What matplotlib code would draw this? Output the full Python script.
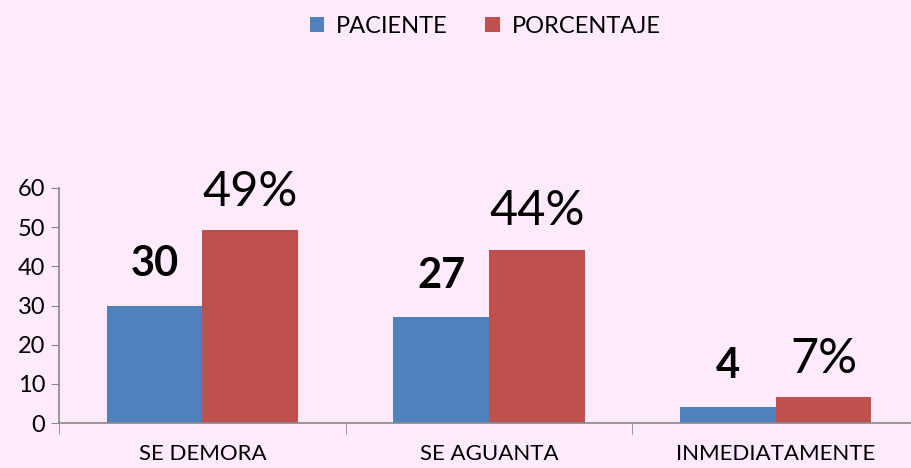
import numpy as np
import matplotlib
matplotlib.use("Agg")
import matplotlib.pyplot as plt

plt.rcParams['font.family'] = ['Lato', 'DejaVu Sans']

categorias = ['SE DEMORA', 'SE AGUANTA', 'INMEDIATAMENTE']
paciente = [30, 27, 4]
porcentaje = [49.18, 44.26, 6.56]
etiq_pac = ['30', '27', '4']
etiq_por = ['49%', '44%', '7%']

bg = '#FDEAFB'
azul = '#4F81BD'
rojo = '#C0504D'

fig = plt.figure(figsize=(9.12, 4.68), dpi=100, facecolor=bg)
ax = fig.add_axes([59/912, 1-423/468, 860/912, 235/468], facecolor=bg)

x = np.arange(len(categorias))
w = 0.334
b1 = ax.bar(x - w/2, paciente, w, color=azul, label='PACIENTE')
b2 = ax.bar(x + w/2, porcentaje, w, color=rojo, label='PORCENTAJE')

for r, t in zip(b1, etiq_pac):
    ax.annotate(t, (r.get_x() + r.get_width()/2, r.get_height()), xytext=(0, 16),
                textcoords='offset points', ha='center', va='bottom',
                fontsize=30, fontweight='bold', color='black')
for r, t in zip(b2, etiq_por):
    ax.annotate(t, (r.get_x() + r.get_width()/2, r.get_height()), xytext=(0, 12),
                textcoords='offset points', ha='center', va='bottom',
                fontsize=35, color='black')

ax.set_xlim(-0.5, 2.5)
ax.set_ylim(0, 60)
ax.set_yticks(range(0, 61, 10))
ax.set_xticks(x)
ax.set_xticklabels(categorias, fontsize=16)
ax.set_xticks(np.arange(-0.5, 3, 1), minor=True)
ax.tick_params(axis='x', which='major', length=0, pad=15)
ax.tick_params(axis='x', which='minor', length=8, color='#888888', direction='out')
ax.tick_params(axis='y', length=6, color='#888888', labelsize=17, pad=4)

for s in ['top', 'right']:
    ax.spines[s].set_visible(False)
for s in ['left', 'bottom']:
    ax.spines[s].set_color('#888888')
    ax.spines[s].set_linewidth(1.2)

leg = fig.legend(loc='upper center', bbox_to_anchor=(0.532, 1.012), ncol=2, frameon=False,
                 fontsize=17, handlelength=0.6, handleheight=0.6, columnspacing=1.6,
                 handletextpad=0.5)

fig.savefig('out.png', dpi=100, facecolor=bg)
